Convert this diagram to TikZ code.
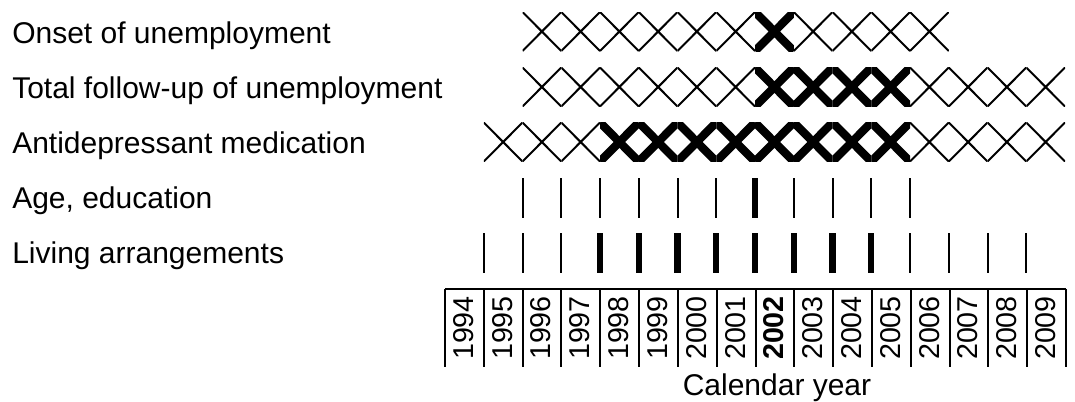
\documentclass[tikz,border=0pt]{standalone}
\usepackage{fontspec}
\setmainfont{Liberation Sans}
\usetikzlibrary{positioning}

% one cross filling the cell of a year, clipped to that cell
\newcommand{\yearcross}[3]{%
  \begin{scope}
    \clip ({445+38.75*(#1-1994)},{#2-19.5}) rectangle ++(38.75,39);
    \draw[#3] ({445+38.75*(#1-1994)},{#2-19.5}) -- ++(38.75,39)
              ({445+38.75*(#1-1994)},{#2+19.5}) -- ++(38.75,-39);
  \end{scope}}
% one bar at the start of a year
\newcommand{\yearbar}[3]{%
  \draw[#3] ({445+38.75*(#1-1994)},{#2-20}) -- ++(0,40);}

\begin{document}
\begin{tikzpicture}[
    x=0.75pt, y=-0.75pt,
    rowlabel/.style={anchor=base west, inner sep=0pt, font=\fontsize{22.5}{27}\selectfont},
    yearlabel/.style={rotate=90, inner sep=0pt, font=\fontsize{21.5}{25}\selectfont},
    thinmark/.style={line width=1.5pt},
    boldmark/.style={line width=6.2pt},
    boldbar/.style={line width=4.8pt}
]
    \useasboundingbox (0,0) rectangle (1075,401);

    % row labels
    \node [rowlabel] (onset)   at (12,43)  {Onset of unemployment};
    \node [rowlabel] (total)   at (12,98)  {Total follow-up of unemployment};
    \node [rowlabel] (antidep) at (12,153) {Antidepressant medication};
    \node [rowlabel] (ageedu)  at (12,208) {Age, education};
    \node [rowlabel] (living)  at (12,263) {Living arrangements};

    % crosses
    \foreach \yr in {1996,...,2001,2003,2004,2005,2006} {\yearcross{\yr}{31.5}{thinmark}}
    \yearcross{2002}{31.5}{boldmark}
    \foreach \yr in {1996,...,2001,2006,2007,2008,2009} {\yearcross{\yr}{87}{thinmark}}
    \foreach \yr in {2002,...,2005} {\yearcross{\yr}{87}{boldmark}}
    \foreach \yr in {1995,1996,1997,2006,2007,2008,2009} {\yearcross{\yr}{142}{thinmark}}
    \foreach \yr in {1998,...,2005} {\yearcross{\yr}{142}{boldmark}}

    % bars
    \foreach \yr in {1996,...,2001,2003,2004,2005,2006} {\yearbar{\yr}{198}{thinmark}}
    \yearbar{2002}{198}{boldbar}
    \foreach \yr in {1995,1996,1997,2006,2007,2008,2009} {\yearbar{\yr}{253}{thinmark}}
    \foreach \yr in {1998,...,2005} {\yearbar{\yr}{253}{boldbar}}

    % year axis
    \draw [thinmark] (445,289) -- (1066,289);
    \foreach \i in {0,...,16} {\draw [thinmark] ({445+38.8125*\i},289) -- ++(0,78);}
    \foreach \yr in {1994,...,2001,2003,2004,2005,2006,2007,2008,2009}
        {\node [yearlabel] (y\yr) at ({445+38.8125*(\yr-1994)+18.5},328) {\yr};}
    \node [yearlabel, font=\fontsize{21.5}{25}\selectfont\bfseries] (y2002) at ({445+38.8125*8+18.5},328) {2002};
    \node [font=\fontsize{22.5}{27}\selectfont, inner sep=0pt, anchor=base] (calyear) at (777,395) {Calendar year};
\end{tikzpicture}
\end{document}
